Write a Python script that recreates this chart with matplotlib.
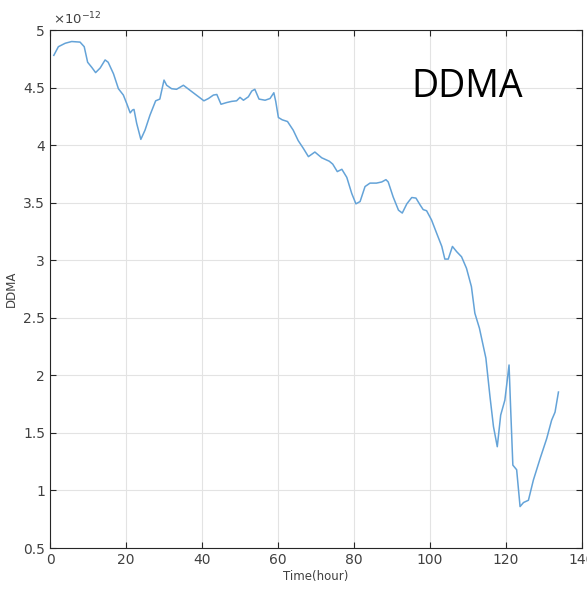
import matplotlib

matplotlib.use("Agg")
import matplotlib.pyplot as plt
from matplotlib.ticker import FuncFormatter, MultipleLocator

SCALE = 1e-12

hours = [
    1.0, 2.2, 4.0, 5.7, 7.9, 9.0, 9.9, 11.0, 12.0, 13.2, 14.5, 15.3, 16.7, 18.0,
    19.3, 20.2, 21.1, 21.7, 22.1, 22.8, 23.9, 25.0, 26.3, 27.8, 28.9, 30.0, 30.7,
    32.0, 33.3, 35.1, 37.3, 39.5, 40.5, 41.7, 43.0, 43.9, 45.0, 46.5, 47.8, 49.1,
    50.0, 50.9, 52.2, 53.1, 53.9, 55.0, 56.6, 57.9, 58.9, 59.4, 60.1, 61.1, 62.5,
    64.0, 65.3, 66.7, 68.0, 69.7, 71.5, 73.5, 74.4, 75.6, 76.8, 78.1, 79.4, 80.5,
    81.6, 82.9, 84.2, 85.9, 87.3, 88.4, 89.0, 90.3, 91.7, 92.7, 93.9, 95.2, 96.3,
    97.4, 98.2, 99.1, 100.4, 101.8, 103.1, 103.9, 104.8, 105.9, 107.0, 108.3,
    109.6, 110.9, 111.8, 113.0, 114.7, 115.8, 116.7, 117.7, 118.6, 119.7, 120.8,
    121.2, 121.8, 122.8, 123.7, 124.6, 125.9, 127.2, 129.0, 130.7, 132.0, 132.9,
    133.8,
]
ddma = [
    4.78, 4.855, 4.885, 4.90, 4.895, 4.855, 4.72, 4.675, 4.63, 4.67, 4.74, 4.72,
    4.62, 4.49, 4.435, 4.36, 4.28, 4.305, 4.31, 4.19, 4.05, 4.13, 4.26, 4.385,
    4.40, 4.565, 4.52, 4.49, 4.485, 4.52, 4.465, 4.41, 4.385, 4.405, 4.435, 4.44,
    4.355, 4.37, 4.38, 4.385, 4.415, 4.39, 4.42, 4.47, 4.485, 4.40, 4.39, 4.405,
    4.455, 4.38, 4.24, 4.22, 4.205, 4.13, 4.04, 3.97, 3.90, 3.94, 3.89, 3.86,
    3.835, 3.77, 3.79, 3.72, 3.58, 3.49, 3.51, 3.64, 3.67, 3.67, 3.68, 3.70,
    3.68, 3.55, 3.435, 3.41, 3.49, 3.545, 3.54, 3.48, 3.44, 3.43, 3.35, 3.23,
    3.12, 3.01, 3.01, 3.12, 3.075, 3.03, 2.93, 2.77, 2.54, 2.41, 2.15, 1.81,
    1.555, 1.38, 1.655, 1.785, 2.09, 1.73, 1.22, 1.18, 0.86, 0.895, 0.915, 1.09,
    1.28, 1.45, 1.61, 1.68, 1.855,
]

axis_grey = "#262626"
label_grey = "#404040"

fig = plt.figure(figsize=(5.87, 5.92), dpi=100)
ax = fig.add_axes([0.0852, 0.0743, 0.9063, 0.875])

ax.plot(hours, [v * SCALE for v in ddma], color="#64a3d8", lw=1.1)

ax.set_xlim(0, 140)
ax.set_ylim(0.5 * SCALE, 5 * SCALE)
ax.xaxis.set_major_locator(MultipleLocator(20))
ax.yaxis.set_major_locator(MultipleLocator(0.5 * SCALE))
ax.yaxis.set_major_formatter(FuncFormatter(lambda v, _: f"{v / SCALE:g}"))

ax.grid(True, color="#e3e3e3", lw=0.8)
ax.set_axisbelow(True)
ax.tick_params(direction="in", length=4, width=0.8, top=True, right=True,
               colors=axis_grey, labelcolor=label_grey, labelsize=10)
for side in ax.spines.values():
    side.set_color(axis_grey)
    side.set_linewidth(0.8)

ax.set_xlabel("Time(hour)", fontsize=8.5, color=label_grey, labelpad=2)
ax.set_ylabel("DDMA", fontsize=8.5, color=label_grey, labelpad=4)

ax.text(0.005, 1.006, r"$\times10^{-12}$", transform=ax.transAxes, fontsize=9.5,
        color=label_grey, ha="left", va="bottom")
ax.text(0.68, 0.89, "DDMA", transform=ax.transAxes, fontsize=27,
        family=["Open Sans", "DejaVu Sans"], color="black", ha="left", va="center")

fig.savefig("out.png", dpi=100)
